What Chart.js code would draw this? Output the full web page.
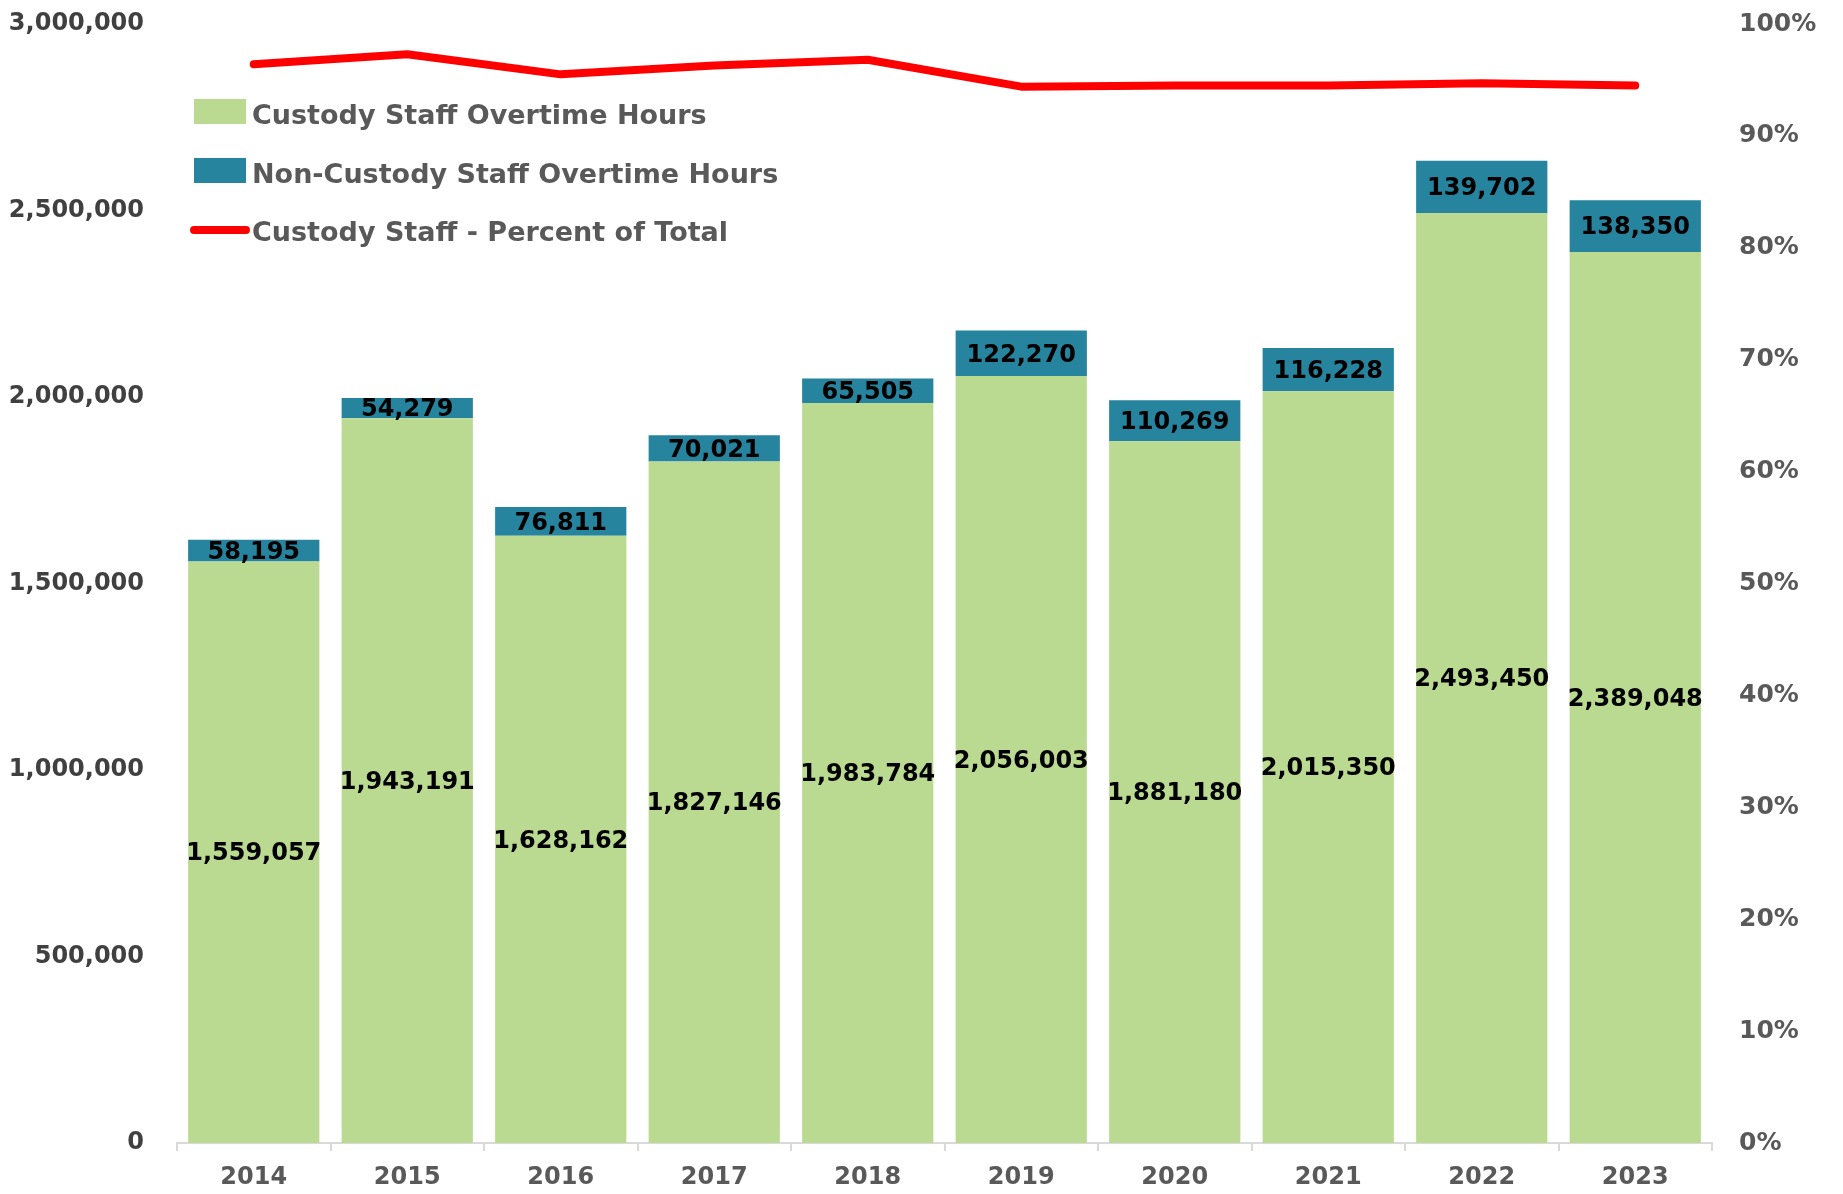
<!DOCTYPE html>
<html>
<head>
<meta charset="utf-8">
<script src="https://cdn.jsdelivr.net/npm/chart.js@4/dist/chart.umd.min.js"></script>
<style>
  html, body { margin: 0; padding: 0; background: #fff; }
  #wrap { width: 1843px; height: 1194px; }
</style>
</head>
<body>
<div id="wrap"><canvas id="chart"></canvas></div>
<script>
// data
const years = ['2014', '2015', '2016', '2017', '2018', '2019', '2020', '2021', '2022', '2023']
const custodyHours = [1559057, 1943191, 1628162, 1827146, 1983784, 2056003, 1881180, 2015350, 2493450, 2389048]
const nonCustodyHours = [58195, 54279, 76811, 70021, 65505, 122270, 110269, 116228, 139702, 138350]
const custodyPercent = [96.4, 97.3, 95.5, 96.3, 96.8, 94.4, 94.5, 94.5, 94.7, 94.5]

const FONT = 'DejaVu Sans'
const fmt = v => Number(v).toLocaleString('en-US')

// rótulos dentro das barras
const barLabels = {
  id: 'barLabels',
  afterDatasetsDraw(chart) {
    const ctx = chart.ctx
    ctx.save()
    ctx.font = `bold 24px "${FONT}"`
    ctx.fillStyle = '#000000'
    ctx.textAlign = 'center'
    ctx.textBaseline = 'middle'
    ;[0, 1].forEach(i => {
      const meta = chart.getDatasetMeta(i)
      meta.data.forEach((bar, j) => {
        const p = bar.getProps(['x', 'y', 'base'], true)
        ctx.fillText(fmt(chart.data.datasets[i].data[j]), p.x, (p.y + p.base) / 2 + 2)
      })
    })
    ctx.restore()
  }
}

// legenda empilhada no canto superior esquerdo
const stackedLegend = {
  id: 'stackedLegend',
  afterDraw(chart) {
    const ctx = chart.ctx
    const area = chart.chartArea
    const x = area.left + 17
    const rows = [93, 152, 210]
    ctx.save()
    ctx.font = `bold 27px "${FONT}"`
    ctx.textBaseline = 'middle'
    chart.data.datasets.forEach((ds, i) => {
      const y = area.top + rows[i]
      if (ds.type === 'line') {
        ctx.strokeStyle = ds.borderColor
        ctx.lineWidth = 8
        ctx.lineCap = 'round'
        ctx.beginPath()
        ctx.moveTo(x, y - 4)
        ctx.lineTo(x + 52, y - 4)
        ctx.stroke()
      } else {
        ctx.fillStyle = ds.backgroundColor
        ctx.fillRect(x, y - 18, 52, 25)
      }
      ctx.fillStyle = '#595959'
      ctx.fillText(ds.label, x + 58, y)
    })
    ctx.restore()
  }
}

new Chart(document.getElementById('chart'), {
  type: 'bar',
  data: {
    labels: years,
    datasets: [
      {
        label: 'Custody Staff Overtime Hours',
        data: custodyHours,
        backgroundColor: '#BBDA91',
        stack: 'hours',
        order: 1
      },
      {
        label: 'Non-Custody Staff Overtime Hours',
        data: nonCustodyHours,
        backgroundColor: '#26849E',
        stack: 'hours',
        order: 1
      },
      {
        type: 'line',
        label: 'Custody Staff - Percent of Total',
        data: custodyPercent,
        yAxisID: 'y1',
        borderColor: '#FF0000',
        borderWidth: 8,
        borderCapStyle: 'round',
        borderJoinStyle: 'round',
        pointRadius: 0,
        tension: 0,
        stack: 'pct',
        order: 0
      }
    ]
  },
  options: {
    responsive: true,
    maintainAspectRatio: false,
    animation: false,
    layout: { padding: { top: 24, left: 0, right: 0, bottom: 0 } },
    datasets: {
      bar: { barPercentage: 0.855, categoryPercentage: 1 }
    },
    plugins: {
      legend: { display: false },
      tooltip: { enabled: false }
    },
    scales: {
      x: {
        stacked: true,
        afterFit: s => { s.height = 51 },
        border: { color: '#D9D9D9', width: 2 },
        grid: {
          display: true,
          drawOnChartArea: false,
          tickLength: 8,
          color: '#D9D9D9',
          lineWidth: 2
        },
        ticks: {
          color: '#595959',
          padding: 12,
          font: { family: FONT, weight: 'bold', size: 24 }
        }
      },
      y: {
        stacked: true,
        position: 'left',
        min: 0,
        max: 3000000,
        afterFit: s => { s.width = 177; s.paddingTop = 0; s.paddingBottom = 0 },
        border: { display: false },
        grid: { display: false, drawTicks: false },
        ticks: {
          stepSize: 500000,
          padding: 33,
          color: '#404040',
          font: { family: FONT, weight: 'bold', size: 24 },
          callback: v => fmt(v)
        }
      },
      y1: {
        position: 'right',
        min: 0,
        max: 100,
        afterFit: s => { s.width = 131; s.paddingTop = 0; s.paddingBottom = 0 },
        border: { display: false },
        grid: { display: false, drawTicks: false },
        ticks: {
          stepSize: 10,
          padding: 27,
          color: '#595959',
          font: { family: FONT, weight: 'bold', size: 25 },
          callback: v => v + '%'
        }
      }
    }
  },
  plugins: [barLabels, stackedLegend]
})
</script>
</body>
</html>
